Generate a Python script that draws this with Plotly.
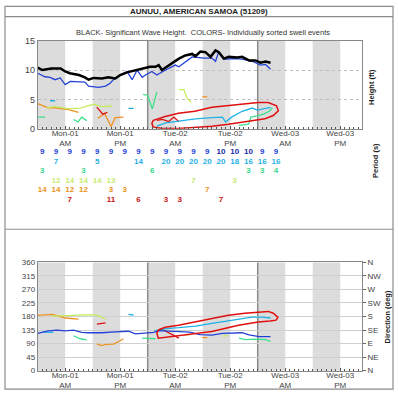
import plotly.graph_objects as go

# ---------------- data ----------------
# top panel: heights (ft) vs hours since Mon-01 00:00
hs_hours = [0, 1, 3, 5, 6, 7, 9, 10.3, 11.1, 12.2, 14, 15.4, 16.9, 18, 19.5, 21.3, 23.5, 24.5, 25.7, 26.4,
            27.1, 29.3, 30.8, 32.2, 33.7, 34.4, 35.5, 36.6, 37.7, 38.8, 39.5, 40.6, 41.7, 43.5, 44.6, 46.1,
            47.5, 48.6, 49.7, 50.8]
hs_vals = [10.45, 10.05, 10.3, 10.3, 9.8, 9.5, 9.2, 8.8, 8.4, 8.7, 8.6, 8.8, 8.6, 9.2, 9.65, 10.0, 10.3,
           10.6, 10.6, 10.9, 10.05, 11.2, 12.0, 12.55, 12.8, 12.4, 13.2, 13.1, 12.3, 13.4, 13.1, 12.0, 12.3,
           12.2, 12.3, 11.7, 11.7, 11.3, 11.5, 11.3]

blue_h_hours = [0, 1.6, 2.7, 3.8, 4.9, 6, 7.1, 8.9, 10.3, 11.1, 13.3, 14.8, 15.8, 16.5, 17.3, 18, 19.5, 20.6,
                21.7, 22.8, 23.5, 24.9, 26, 27.9, 30, 30.8, 32.6, 33.7, 36.2, 38, 38.8, 39.5, 40.6, 42.6,
                44.6, 46.8, 48.6, 49.7, 50.8]
blue_h_vals = [9.5, 8.9, 8.8, 8.4, 8.7, 7.55, 8.1, 8.1, 8.0, 7.3, 7.1, 7.3, 7.8, 8.4, 8.7, 9.2, 9.8, 8.4,
               10.05, 8.8, 9.2, 9.8, 9.2, 10.05, 10.9, 10.6, 11.7, 12.3, 12.1, 12.1, 11.55, 13.2, 11.9, 12.0,
               11.9, 11.55, 10.9, 11.0, 10.2]

cyan_h_hours = [2.7, 3.8, None, 19.8, 20.9, None, 26, 27.9, 30.8, 34.4, 38, 40.3, 41, 42.3, 44.6, 46.8,
                47.9, 49.7, 50.8]
cyan_h_vals = [4.8, 4.8, None, 3.5, 3.5, None, 0.45, 1.0, 1.33, 1.7, 1.9, 2.0, 1.17, 2.0, 3.0, 3.55, 3.2,
               3.55, 3.65]

green_h_hours = [0, 1.6, None, 7.8, 8.8, 9.6, 10.7, None, 23, 24, 25, 26, None, 43.9, 46, 46.5, 47.9, 49.4,
                 50.5, 51.2]
green_h_vals = [2.0, 2.0, None, 1.6, 1.2, 2.0, 1.4, None, 5.9, 5.7, 3.4, 6.3, None, 0.6, 0.8, 2.0, 2.2,
                2.55, 3.0, 3.6]

yg_h_hours = [2, 3.8, 6.7, 9.3, 11.1, 12.2, 14, 15.1, 16.2, None, 30.8, 31.9, 32.6, 33.5]
yg_h_vals = [3.6, 3.8, 3.4, 3.55, 3.95, 4.2, 3.8, 3.8, 3.9, None, 6.7, 6.7, 5.2, 4.5]

orange_h_hours = [0, 0.9, 2.3, 3.8, 5.2, 6.7, 8.9, None, 13.1, 14.6, 15.5, 16, 16.9, 18.7, None, 35.9, 37]
orange_h_vals = [4.3, 4.05, 3.6, 3.6, 3.4, 3.3, 2.8, None, 1.8, 2.6, 1.2, 0.4, 1.9, 2.0, None, 5.45, 5.5]

red_h_hours = [12.9, 14.2, 15.2, None, 26, 27.2, 28.6, 29.7, 30.8]
red_h_vals = [3.7, 2.5, 2.8, None, 1.45, 1.6, 1.25, 2.0, 1.2]

# hand-drawn red circle (annotation) around the new swell
circle_h_hours = [25.2, 27.8, 30.7, 34.3, 38, 41.6, 45.2, 48.1, 50.3, 52.1, 52.5, 51.4, 49.6, 45.2, 41.6, 38,
                  34.3, 30.7, 27.1, 25.2, 24.9, 25.2]
circle_h_vals = [1.45, 2.1, 2.67, 3.0, 3.67, 3.94, 4.22, 4.5, 4.5, 3.94, 3.1, 2.28, 1.72, 1.17, 0.78, 0.44,
                 0.22, 0.06, 0.06, 0.33, 0.89, 1.45]

# period table (s)
period_hours = [1, 4, 7, 10, 13, 16, 19, 22, 25, 28, 31, 34, 37, 40, 43, 46, 49, 52]
period_blue = ['9', '9', '9', '9', '9', '9', '9', '9', '9', '9', '9', '9', '9', '10', '10', '10', '9', '9']
period_cyan = ['', '7', '', '', '5', '', '', '14', '', '20', '20', '20', '20', '20', '18', '16', '16', '16']
period_green = ['3', '', '', '3', '', '', '', '', '6', '', '', '', '', '', '', '3', '3', '4']
period_yg = ['', '12', '14', '14', '14', '13', '', '', '', '', '', '7', '', '', '3', '', '', '']
period_orange = ['14', '14', '12', '12', '', '3', '3', '', '', '', '', '', '7', '', '', '', '', '']
period_red = ['', '', '7', '', '', '11', '', '6', '', '3', '3', '', '', '7', '', '', '', '']

# bottom panel: direction (deg)
blue_d_hours = [0, 2.3, 4.2, 6, 7.8, 9.6, 11, 14, 16.9, 19.8, 21.3, 23.5, 25.3, 26.4, 30.8, 33.2, 35.4, 38,
                40.3, 44.6, 46.1, 48.3, 50.8]
blue_d_vals = [124, 132, 135, 132, 135, 127.5, 126, 126, 129, 131, 122, 125, 127.5, 133, 130, 128, 120, 118,
               124, 126, 119, 113, 113]

cyan_d_hours = [1.2, 3.4, None, 19.8, 20.9, None, 25.5, 27.9, 30.8, 34.4, 38, 41.7, 44.6, 46.8, 48.9, 50.8]
cyan_d_vals = [128, 127, None, 187, 185, None, 132, 140, 143, 148, 157, 165, 173, 178, 178, 175]

green_d_hours = [7.8, 9.3, 10.7, None, 22.8, 25.7, None, 43.9, 45.3, 47.5, 49.7, 50.8]
green_d_vals = [116, 106, 102, None, 108, 106, None, 108, 103, 105, 103, 97]

yg_d_hours = [3, 6.7, 9.6, 11.8, 13.6, 14.8, None, 31.9, 33.2, None, 40.4, 41.5]
yg_d_vals = [181, 183, 185, 186, 181, 171, None, 119, 119, None, 115, 117]

orange_d_hours = [0, 3.1, 4.5, 6, 8.9, None, 12.9, 13.8, 15, 16.5, 17.6, 18.7, None, 35.9, 37]
orange_d_vals = [184, 187, 182, 175, 171, None, 89, 83, 87, 88, 96, 106, None, 110, 110]

red_d_hours = [12.9, 14.8, None, 26.8, 28.6, 30.8]
red_d_vals = [155, 159, None, 140, 125, 108]

circle_d_hours = [26.3, 27.8, 30.7, 34.3, 38, 41.6, 45.2, 48.9, 50.3, 51.4, 52.4, 52, 50.7, 48.1, 43.8, 38,
                  32.1, 28.5, 26.3, 26, 26.3]
circle_d_vals = [135, 144, 151, 162, 173, 184, 191, 196, 197, 191, 178, 168, 165, 162, 151, 130, 119, 113,
                 108, 124, 135]

day_ticks = [6, 18, 30, 42, 54, 66]
day_labels = ['Mon-01<br>AM', 'Mon-01<br>PM', 'Tue-02<br>AM', 'Tue-02<br>PM', 'Wed-03<br>AM', 'Wed-03<br>PM']
night_bands = [(0, 6), (12, 18), (24, 30), (36, 42), (48, 54), (60, 66)]
day_lines = [24, 48]
height_ticks = [0, 5, 10, 15]
dir_ticks = [0, 45, 90, 135, 180, 225, 270, 315, 360]
dir_labels = ['N', 'NE', 'E', 'SE', 'S', 'SW', 'W', 'NW', 'N']

# ---------------- styling ----------------
W, H = 398, 400
FONT = 'Liberation Sans'
C_BLACK = '#000000'
C_BLUE = '#2442d6'
C_BLUE10 = '#1a2aa8'
C_CYAN = '#1fb1e6'
C_GREEN = '#3ee08e'
C_YG = '#c6ec5e'
C_ORANGE = '#ef9120'
C_RED = '#e01010'
C_BAND = '#dcdcdc'

XR = [0, 70.75]
xdom = [37.7 / W, 362 / W]


def py(px):
    return 1 - px / H


fig = go.Figure()


def line(x, y, color, width, xa='x', ya='y'):
    fig.add_trace(go.Scatter(x=x, y=y, mode='lines', xaxis=xa, yaxis=ya, connectgaps=False,
                             line=dict(color=color, width=width), hoverinfo='skip', showlegend=False))


# top panel
line(orange_h_hours, orange_h_vals, C_ORANGE, 1.3)
line(yg_h_hours, yg_h_vals, C_YG, 1.3)
line(green_h_hours, green_h_vals, C_GREEN, 1.3)
line(red_h_hours, red_h_vals, C_RED, 1.3)
line(cyan_h_hours, cyan_h_vals, C_CYAN, 1.3)
line(blue_h_hours, blue_h_vals, C_BLUE, 1.3)
line(hs_hours, hs_vals, C_BLACK, 2.5)
line(circle_h_hours, circle_h_vals, C_RED, 1.5)

# bottom panel
line(orange_d_hours, orange_d_vals, C_ORANGE, 1.3, 'x2', 'y2')
line(yg_d_hours, yg_d_vals, C_YG, 1.3, 'x2', 'y2')
line(green_d_hours, green_d_vals, C_GREEN, 1.3, 'x2', 'y2')
line(red_d_hours, red_d_vals, C_RED, 1.3, 'x2', 'y2')
line(cyan_d_hours, cyan_d_vals, C_CYAN, 1.3, 'x2', 'y2')
line(blue_d_hours, blue_d_vals, C_BLUE, 1.3, 'x2', 'y2')
line(circle_d_hours, circle_d_vals, C_RED, 1.5, 'x2', 'y2')
# invisible traces for helper axes (compass labels, day labels)
for xa, ya in (('x2', 'y4'), ('x5', 'y'), ('x6', 'y2')):
    fig.add_trace(go.Scatter(x=[None], y=[None], xaxis=xa, yaxis=ya, mode='lines', showlegend=False,
                             hoverinfo='skip'))

# period table
rows = [
    (period_blue, [C_BLUE10 if t == '10' else C_BLUE for t in period_blue]),
    (period_cyan, C_CYAN),
    (period_green, '#36d68c'),
    (period_yg, '#c8ec70'),
    (period_orange, '#ec9420'),
    (period_red, '#cc1515'),
]
for i, (txt, col) in enumerate(rows):
    fig.add_trace(go.Scatter(x=period_hours, y=[i + 1] * len(period_hours), text=txt, mode='text',
                             xaxis='x3', yaxis='y3', showlegend=False, hoverinfo='skip',
                             textfont=dict(family=FONT, size=8, color=col, weight='bold'),
                             textposition='middle center'))

shapes = []
for a, b in night_bands:
    for xr, yr in (('x', 'y domain'), ('x2', 'y2 domain')):
        shapes.append(dict(type='rect', xref=xr, yref=yr, x0=a, x1=b, y0=0, y1=1, fillcolor=C_BAND,
                           line=dict(width=0), layer='below'))
for d in day_lines:
    for xr, yr in (('x', 'y domain'), ('x2', 'y2 domain')):
        shapes.append(dict(type='line', xref=xr, yref=yr, x0=d, x1=d, y0=0, y1=1,
                           line=dict(color='#8a8a8a', width=1.5), layer='below'))
# outer frame, title separator, panel separator
shapes.append(dict(type='rect', xref='paper', yref='paper', x0=5 / W, x1=393 / W, y0=py(394), y1=py(1.5),
                   line=dict(color='#8c8c8c', width=1.2)))
shapes.append(dict(type='line', xref='paper', yref='paper', x0=5 / W, x1=393 / W, y0=py(12), y1=py(12),
                   line=dict(color='#8c8c8c', width=1.2)))
shapes.append(dict(type='line', xref='paper', yref='paper', x0=5 / W, x1=393 / W, y0=py(230), y1=py(230),
                   line=dict(color='#8c8c8c', width=1.2)))

tickfont = dict(family=FONT, size=8, color='#444')
xframe = dict(range=XR, showticklabels=False, showgrid=False, zeroline=False, showline=True, linecolor='#888',
              linewidth=1, mirror=True, ticks='inside', ticklen=3, tickcolor='#555', tickvals=day_ticks,
              minor=dict(ticks='inside', dtick=1, tick0=0, ticklen=2, tickcolor='#555', showgrid=False))
xlabels = dict(range=XR, tickvals=day_ticks, ticktext=day_labels, tickfont=tickfont, showgrid=False,
               zeroline=False, showline=False, ticks='', ticklabelstandoff=-3, anchor='free')

fig.update_layout(
    width=W, height=H, margin=dict(l=0, r=0, t=0, b=0), paper_bgcolor='white', plot_bgcolor='white',
    showlegend=False, shapes=shapes,
    xaxis=dict(domain=xdom, anchor='y', **xframe),
    yaxis=dict(domain=[py(127), py(37)], range=[0, 15], tickvals=height_ticks,
               tickfont=dict(family=FONT, size=9, color='#444'),
               showgrid=True, gridcolor='#bdbdbd', griddash='dot', zeroline=False, showline=True,
               linecolor='#888', mirror=True, ticks=''),
    xaxis5=dict(domain=xdom, overlaying='x', position=py(128), **xlabels),
    xaxis2=dict(domain=xdom, anchor='y2', **xframe),
    xaxis6=dict(domain=xdom, overlaying='x2', position=py(376), **xlabels),
    yaxis2=dict(domain=[py(375), py(264)], range=[0, 360], tickvals=dir_ticks, tickfont=tickfont,
                showgrid=True, gridcolor='#cfcfcf', zeroline=False, showline=True, linecolor='#888',
                mirror=True, ticks=''),
    yaxis4=dict(overlaying='y2', side='right', anchor='x2', range=[0, 360], tickvals=dir_ticks,
                ticktext=dir_labels, tickfont=tickfont, showgrid=False, zeroline=False, ticks='outside',
                ticklen=3, tickcolor='#666', showline=False),
    xaxis3=dict(domain=xdom, anchor='y3', range=XR, visible=False),
    yaxis3=dict(domain=[py(204.9), py(145.8)], range=[6.5, 0.5], visible=False),
    annotations=[
        dict(text='<b>AUNUU, AMERICAN SAMOA (51209)</b>', xref='paper', yref='paper', x=199 / W, y=py(7),
             showarrow=False, font=dict(family=FONT, size=8, color='#222'), xanchor='center', yanchor='middle'),
        dict(text='BLACK- Significant Wave Height.  COLORS- Individually sorted swell events', xref='paper',
             yref='paper', x=203 / W, y=py(28), showarrow=False, font=dict(family=FONT, size=7.5, color='#333'),
             xanchor='center', yanchor='middle'),
        dict(text='<b>Height (ft)</b>', xref='paper', yref='paper', x=372 / W, y=py(84), showarrow=False,
             textangle=-90, font=dict(family=FONT, size=7.5, color='#222'), xanchor='center', yanchor='middle'),
        dict(text='<b>Period (s)</b>', xref='paper', yref='paper', x=375 / W, y=py(160), showarrow=False,
             textangle=-90, font=dict(family=FONT, size=7.5, color='#222'), xanchor='center', yanchor='middle'),
        dict(text='<b>Direction (deg)</b>', xref='paper', yref='paper', x=386.5 / W, y=py(320), showarrow=False,
             textangle=-90, font=dict(family=FONT, size=7.5, color='#222'), xanchor='center', yanchor='middle'),
    ],
)

fig.write_html('out.html', config={'displayModeBar': False},
               post_script="document.body.style.margin='0';document.body.style.overflow='hidden';")
